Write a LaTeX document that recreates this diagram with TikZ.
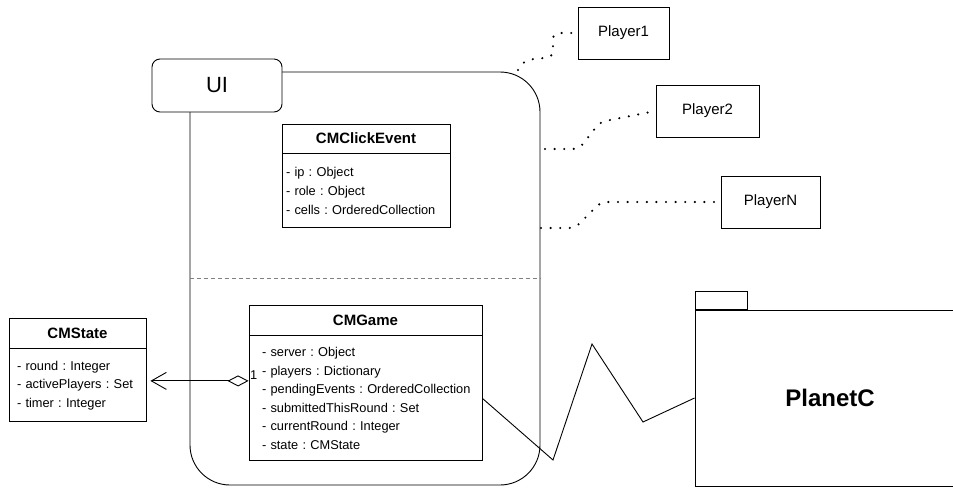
\documentclass[tikz,border=0pt]{standalone}
\usepackage{fontspec}
\setmainfont{Liberation Sans}
\usetikzlibrary{positioning,arrows.meta}
\frenchspacing
\hyphenpenalty=10000
\exhyphenpenalty=10000
\tikzset{
    ui-frame/.style = {draw, rectangle, rounded corners=40pt, line width=0.9pt},
    ui-box/.style = {draw, fill=white, rectangle, rounded corners=8pt, line width=0.9pt, font=\fontsize{22}{26}\selectfont},
    class-head/.style = {draw, fill=white, rectangle, line width=0.9pt, minimum height=30pt, inner sep=0pt, font=\fontsize{15}{18}\selectfont\bfseries},
    class-body/.style = {draw, fill=white, rectangle, line width=0.9pt, align=left, inner ysep=0pt, font=\fontsize{12.8}{18.6}\selectfont\frenchspacing},
    player-box/.style = {draw, fill=white, rectangle, line width=0.9pt, minimum height=52pt, font=\fontsize{15}{18}\selectfont},
    player-link/.style = {line width=2.4pt, dash pattern=on 0pt off 9.6pt, line cap=round, rounded corners=6pt},
    package-box/.style = {draw, fill=white, rectangle, line width=0.9pt},
}

\begin{document}
\begin{tikzpicture}[x=1pt, y=-1pt]
\useasboundingbox (0,0) rectangle (953,488);
\clip (0,0) rectangle (953,488);

% the UI frame
\node[ui-frame, minimum width=350pt, minimum height=413pt] (frame) at (365,278.5) {};
\draw[gray, line width=0.8pt, dash pattern=on 4pt off 3pt] (frame.west) -- (frame.east);

% classes
\node[class-head, minimum width=168pt, minimum height=29pt] (click-head) at (366,138.5) {CMClickEvent};
\node[class-body, below=0pt of click-head, inner xsep=4pt, text width=160pt, minimum height=74pt] (click) {- ip : Object\\- role : Object\\- cells : OrderedCollection};

\node[class-head, minimum width=233pt] (game-head) at (365.5,320) {CMGame};
\node[class-body, below=0pt of game-head, inner xsep=13pt, text width=207pt, minimum height=125pt] (game) {- server : Object\\- players : Dictionary\\\mbox{- pendingEvents : OrderedCollection}\\- submittedThisRound : Set\\- currentRound : Integer\\- state : CMState};

\node[class-head, minimum width=137pt] (state-head) at (77.5,333) {CMState};
\node[class-body, below=0pt of state-head, inner xsep=8pt, text width=121pt, minimum height=73pt] (state) {- round : Integer\\- activePlayers : Set\\- timer : Integer};

\node[ui-box, minimum width=130pt, minimum height=53pt] (ui) at (217,85.5) {UI};

% players
\node[player-box, minimum width=91pt] (player1) at (623.5,33) {Player1};
\node[player-box, minimum width=103pt] (player2) at (707.5,111) {Player2};
\node[player-box, minimum width=99pt] (playerN) at (770.5,202) {PlayerN};

\coordinate (p1-start) at (518,70);
\coordinate (p2-start) at (545,149);
\coordinate (pN-start) at (541,228);
\draw[player-link] (p1-start) -- (525,60) -- (553,57) -- (553,33) -- (player1.west);
\draw[player-link] (p2-start) -- (579,149) -- (600,122) -- (player2.west);
\draw[player-link] (pN-start) -- (575,228) -- (601,202) -- (playerN.west);

% package
\node[package-box, minimum width=270pt, minimum height=176pt, font=\fontsize{24}{28}\selectfont\bfseries] (planet) at (830,398) {PlanetC};
\node[package-box, minimum width=52pt, minimum height=18pt, anchor=south west] (planet-tab) at (planet.north west) {};

% connectors
\coordinate (agg) at ([yshift=17.5pt]game.west);
\draw[line width=0.9pt, {Diamond[open, length=21pt, width=11pt]}-{Straight Barb[length=15pt, width=17pt]}, shorten >=4pt] (agg) -- node[pos=0, above right, inner sep=1pt, font=\fontsize{12.8}{15}\selectfont] (mult) {1} (state.east |- agg);
\draw[line width=0.9pt] (game.east) -- (553,460) -- (592,344) -- (643,422) -- (planet.west);
\end{tikzpicture}
\end{document}
